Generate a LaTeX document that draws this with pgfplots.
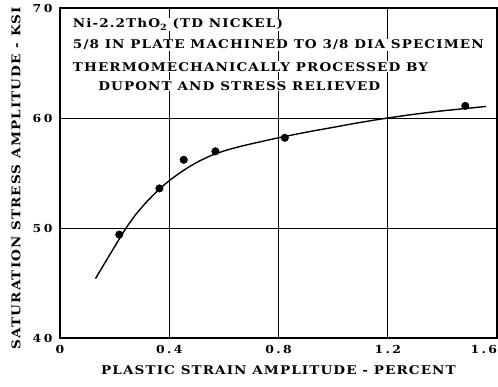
\documentclass[border=0pt]{standalone}
\usepackage{pgfplots}
\pgfplotsset{compat=1.18}
\usepackage{fontspec}
\setmainfont{DejaVu Serif}[BoldFont={DejaVu Serif Bold}]
\newfontfamily\lab{DejaVu Serif Bold}[FakeStretch=1.13,LetterSpace=9]
\newfontfamily\tik{DejaVu Serif Bold}[FakeStretch=1.13,LetterSpace=22]
\begin{document}
\begin{tikzpicture}
\begin{axis}[
  scale only axis,
  width=437pt, height=330pt,
  xmin=0, xmax=1.6, ymin=40, ymax=70,
  xtick={0,0.4,0.8,1.2,1.6},
  xticklabels={0,0.4,0.8,1.2,\makebox[0pt][r]{1.6}},
  ytick={40,50,60,70},
  yticklabels={40,50,60,70},
  major tick length=0pt,
  grid=major,
  grid style={black, line width=1pt},
  axis line style={black, line width=2pt},
  tick label style={font=\tik\fontsize{11}{13}\selectfont},
  xticklabel style={yshift=-4pt},
  yticklabel style={xshift=-4pt},
  xlabel={PLASTIC STRAIN AMPLITUDE - PERCENT},
  ylabel={SATURATION STRESS AMPLITUDE - KSI},
  label style={font=\lab\fontsize{12}{13}\selectfont},
  x label style={at={(axis description cs:0.5,0)}, yshift=-32pt, anchor=center},
  y label style={at={([xshift=-44pt,yshift=-5pt]axis description cs:0,0.5)}, anchor=center, rotate=0},
  clip=false,
]
\addplot[black, line width=1.4pt, smooth] coordinates {
(0.13,45.4) (0.16,46.65) (0.20,48.3) (0.242,50.0) (0.28,51.3) (0.32,52.45)
(0.36,53.45) (0.40,54.3) (0.45,55.2) (0.50,55.95) (0.55,56.55) (0.60,57.0)
(0.65,57.35) (0.70,57.65) (0.80,58.2) (0.90,58.7) (1.00,59.15) (1.10,59.6)
(1.20,60.0) (1.30,60.35) (1.40,60.65) (1.50,60.9) (1.56,61.05)};
\addplot[only marks, mark=*, mark size=3.8pt, black] coordinates {
(0.217,49.4) (0.364,53.6) (0.453,56.2) (0.569,56.97) (0.823,58.2) (1.484,61.1)};
\begin{scope}[every node/.style={anchor=west, fill=white, inner xsep=1pt, inner ysep=1pt, font=\lab\fontsize{12}{13}\selectfont}]
\node at (rel axis cs:0.027,0.950) {Ni-2.2ThO\raisebox{-2.5pt}{\fontsize{8.5}{9}\selectfont 2} (TD NICKEL)};
\node at (rel axis cs:0.027,0.889) {5/8 IN PLATE MACHINED TO 3/8 DIA SPECIMEN};
\node at (rel axis cs:0.027,0.822) {THERMOMECHANICALLY PROCESSED BY};
\node at (rel axis cs:0.085,0.764) {DUPONT AND STRESS RELIEVED};
\end{scope}
\end{axis}
\pgfresetboundingbox
\path[use as bounding box] (current axis.south west) ++(-60pt,-48pt) rectangle ([shift={(1pt,8pt)}]current axis.north east);
\end{tikzpicture}
\end{document}
